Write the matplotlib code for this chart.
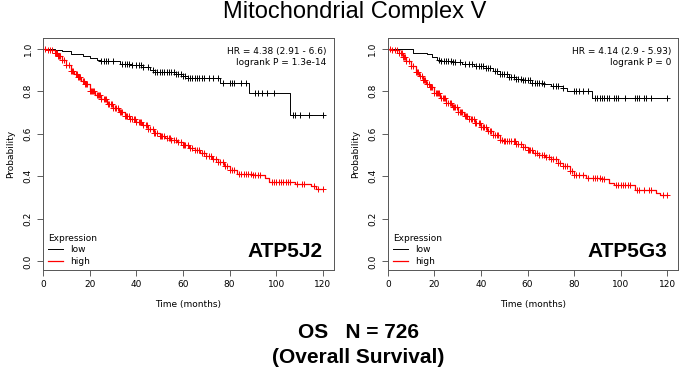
import numpy as np
import matplotlib
matplotlib.use("Agg")
import matplotlib.pyplot as plt
from matplotlib.lines import Line2D

# ATP5J2 - Kaplan-Meier knots (time in months, survival probability)
j2_low_t = [0, 3, 5, 8, 12, 17, 20, 23, 25, 33, 38, 43, 46, 48, 57, 60, 62, 76, 88.5, 106, 120]
j2_low_s = [1.0, 0.997, 0.995, 0.988, 0.977, 0.964, 0.956, 0.949, 0.942, 0.930, 0.925, 0.914, 0.902,
            0.890, 0.880, 0.872, 0.862, 0.840, 0.790, 0.690, 0.690]
j2_low_cens = [25, 26, 27, 28, 30, 34, 35, 36, 37, 38, 40, 41, 42, 43, 45, 47, 48, 49, 50, 51, 52, 53,
               54, 55, 56, 57, 58, 59, 60, 61, 62, 63, 64, 65, 66, 67, 68, 69, 71, 73, 75, 77, 80, 81,
               82, 85, 87, 91, 92, 94, 96, 99, 107, 108, 110, 114, 120]

j2_high_t = [0, 2, 5, 6.5, 8, 10, 12, 13.5, 15, 16.5, 18, 20, 22.5, 25, 27.5, 30, 32.5, 35, 37.5, 40,
             42.5, 45, 47.5, 50, 52.5, 55, 57.5, 60, 62.5, 65, 67.5, 70, 72.5, 75, 77.5, 80, 83, 90,
             95, 97, 108, 115, 117, 120]
j2_high_s = [1.0, 0.992, 0.98, 0.965, 0.945, 0.922, 0.896, 0.882, 0.868, 0.850, 0.833, 0.802, 0.782,
             0.762, 0.741, 0.720, 0.702, 0.684, 0.670, 0.657, 0.640, 0.621, 0.605, 0.590, 0.581,
             0.572, 0.560, 0.548, 0.535, 0.522, 0.510, 0.497, 0.482, 0.466, 0.449, 0.431, 0.413,
             0.408, 0.393, 0.374, 0.366, 0.354, 0.341, 0.341]
j2_high_cens = [1, 2, 3, 4, 5, 5.5, 6, 6.5, 7, 7.5, 8, 9, 10, 11, 12, 12.5, 13, 14, 14.5, 15, 15.5,
                16, 17, 17.5, 18, 18.5, 19, 20, 20.5, 21, 21.5, 22, 23, 23.5, 24, 24.5, 25, 26, 26.5,
                27, 28, 28.5, 29, 29.5, 30, 31, 31.5, 32, 33, 33.5, 34, 35, 35.5, 36, 37, 37.5, 38,
                39, 39.5, 40, 41, 41.5, 42, 43, 44, 44.5, 45, 46, 47, 47.5, 48, 49, 50, 50.5, 51, 52,
                53, 54, 54.5, 55, 56, 57, 58, 59, 60, 60.5, 61, 62, 63, 64, 65, 66, 67, 68, 69, 70, 71,
                72, 73, 74, 75, 76, 77, 78, 79, 80, 81, 82, 84, 85, 86, 87, 88, 89, 90, 91, 92, 93,
                98, 99, 100, 101, 102, 103, 104, 105, 106, 109, 111, 112, 116, 118, 120]

# ATP5G3
g3_low_t = [0, 11, 17, 19, 21, 23, 28, 32, 37, 42, 45, 48, 52, 55, 58, 62, 67, 70, 75, 77, 87.5, 120]
g3_low_s = [1.0, 0.98, 0.975, 0.961, 0.949, 0.942, 0.938, 0.930, 0.919, 0.911, 0.896, 0.883, 0.868,
            0.857, 0.852, 0.841, 0.836, 0.826, 0.813, 0.800, 0.769, 0.769]
g3_low_cens = [22, 23, 24, 25, 26, 27, 28, 29, 31, 33, 35, 36, 38, 39, 40, 41, 42, 43, 44, 46, 47, 48,
               49, 50, 51, 52, 53, 54, 55, 56, 57, 58, 59, 60, 61, 62, 63, 64, 65, 66, 67, 71, 72, 73,
               75, 80, 81, 82, 84, 86, 89, 90, 91, 92, 93, 94, 95, 97, 98, 99, 102, 106, 107, 108, 110,
               111, 113, 120]

g3_high_t = [0, 2, 5, 6.5, 8, 10, 12, 13.5, 15, 16.5, 18, 20, 22.5, 25, 27.5, 30, 32.5, 35, 37.5, 40,
             42.5, 45, 48, 50, 55, 58, 60, 62.5, 65, 67.5, 70, 73, 75, 78, 80, 85, 92, 95, 97, 106,
             115, 117, 120]
g3_high_s = [1.0, 0.992, 0.98, 0.962, 0.942, 0.917, 0.890, 0.872, 0.855, 0.836, 0.818, 0.793, 0.770,
             0.746, 0.725, 0.704, 0.686, 0.668, 0.651, 0.634, 0.615, 0.595, 0.572, 0.564, 0.551,
             0.537, 0.522, 0.512, 0.502, 0.492, 0.481, 0.463, 0.447, 0.424, 0.408, 0.393, 0.388,
             0.369, 0.358, 0.338, 0.320, 0.312, 0.312]
g3_high_cens = [1, 2, 3, 4, 5, 5.5, 6, 6.5, 7, 7.5, 8, 9, 10, 11, 12, 12.5, 13, 14, 14.5, 15, 15.5,
                16, 17, 17.5, 18, 18.5, 19, 20, 20.5, 21, 21.5, 22, 23, 23.5, 24, 24.5, 25, 26, 26.5,
                27, 28, 28.5, 29, 29.5, 30, 31, 31.5, 32, 33, 33.5, 34, 35, 35.5, 36, 37, 37.5, 38,
                39, 39.5, 40, 41, 41.5, 42, 43, 44, 44.5, 45, 46, 47, 47.5, 48, 49, 50, 50.5, 51, 52,
                53, 54, 54.5, 55, 56, 57, 58, 59, 60, 60.5, 61, 62, 63, 64, 65, 66, 67, 68, 69, 70, 71,
                72, 73, 74, 75, 76, 77, 78, 79, 80, 81, 82, 84, 86, 88, 89, 90, 91, 92, 93, 98, 99,
                100, 101, 102, 103, 104, 107, 108, 110, 112, 113, 118, 120]

panels = [
    ("ATP5J2", "HR = 4.38 (2.91 - 6.6)\nlogrank P = 1.3e-14",
     j2_low_t, j2_low_s, j2_low_cens, j2_high_t, j2_high_s, j2_high_cens),
    ("ATP5G3", "HR = 4.14 (2.9 - 5.93)\nlogrank P = 0",
     g3_low_t, g3_low_s, g3_low_cens, g3_high_t, g3_high_s, g3_high_cens),
]

fig = plt.figure(figsize=(7, 3.77), dpi=100)
axes_pos = [[0.0614, 0.284, 0.4156, 0.615], [0.554, 0.284, 0.415, 0.615]]


def step_value(t, s, x):
    i = np.searchsorted(t, x, side="right") - 1
    return np.asarray(s)[i]


for pos, (gene, hr, lt, ls, lc, ht, hs, hc) in zip(axes_pos, panels):
    ax = fig.add_axes(pos)
    ax.step(lt, ls, where="post", color="black", lw=0.7)
    ax.step(ht, hs, where="post", color="red", lw=0.9)
    ax.plot(lc, step_value(lt, ls, lc), "+", color="black", ms=5, mew=0.7)
    ax.plot(hc, step_value(ht, hs, hc), "+", color="red", ms=5, mew=0.7)

    ax.set_xlim(0, 124.7)
    ax.set_ylim(-0.04, 1.05)
    ax.set_xticks([0, 20, 40, 60, 80, 100, 120])
    ax.set_yticks([0, 0.2, 0.4, 0.6, 0.8, 1.0])
    ax.set_yticklabels(["0.0", "0.2", "0.4", "0.6", "0.8", "1.0"], rotation=90, va="center")
    ax.tick_params(labelsize=6.5, length=4, width=0.6, color="#444444")
    for sp in ax.spines.values():
        sp.set_linewidth(0.7)
        sp.set_color("#555555")
    ax.set_ylabel("Probability", fontsize=6.5, labelpad=6)
    ax.set_xlabel("Time (months)", fontsize=6.5, labelpad=8)

    ax.text(0.975, 0.96, hr, transform=ax.transAxes, ha="right", va="top",
            fontsize=6.5, linespacing=1.2)
    ax.text(0.962, 0.04, gene, transform=ax.transAxes, ha="right", va="bottom",
            fontsize=15, fontweight="bold", family="Liberation Sans")
    handles = [Line2D([], [], color="black", lw=0.7), Line2D([], [], color="red", lw=0.9)]
    leg = ax.legend(handles, ["low", "high"], loc="lower left", frameon=False, fontsize=6.5,
                    title="Expression", title_fontsize=6.5, handlelength=1.6,
                    borderaxespad=0.2, labelspacing=0.25, bbox_to_anchor=(0.0, -0.005))
    leg._legend_box.align = "left"

fig.text(0.507, 0.968, "Mitochondrial Complex V", ha="center", va="center",
         fontsize=17, family="Liberation Sans")
fig.text(0.512, 0.119, "OS   N = 726", ha="center", va="center",
         fontsize=15, fontweight="bold", family="Liberation Sans")
fig.text(0.512, 0.053, "(Overall Survival)", ha="center", va="center",
         fontsize=15, fontweight="bold", family="Liberation Sans")

fig.savefig("out.png", dpi=100)
